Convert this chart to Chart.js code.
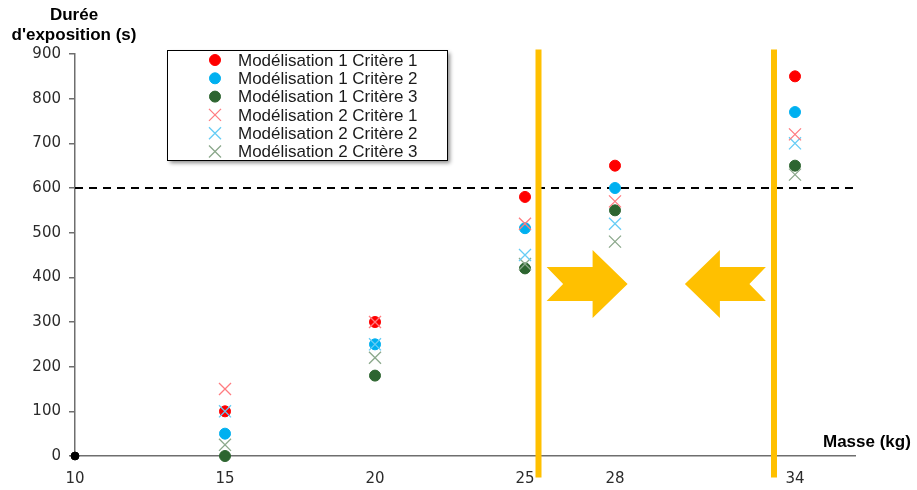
<!DOCTYPE html>
<html>
<head>
<meta charset="utf-8">
<script src="https://cdn.jsdelivr.net/npm/chart.js@4.4.1/dist/chart.umd.min.js"></script>
<style>
  body { margin: 0; background: #fff; }
  #wrap { width: 917px; height: 490px; }
</style>
</head>
<body>
<div id="wrap"><canvas id="graphe" width="917" height="490"></canvas></div>
<script>
// Données
var xTicks = [10, 15, 20, 25, 28, 34];
var masses = [15, 20, 25, 28, 34];
var m1c1 = [100, 300, 580, 650, 850];
var m1c2 = [50, 250, 510, 600, 770];
var m1c3 = [0, 180, 420, 550, 650];
var m2c1 = [150, 300, 520, 570, 720];
var m2c2 = [100, 250, 450, 520, 700];
var m2c3 = [25, 220, 430, 480, 630];
var seuil = 600;
var limites = [25.45, 33.3];
// flèches : x départ, x pointe, y centre (unités des axes)
var fleches = [
    { from: 25.72, to: 28.42, y: 385 },
    { from: 33.03, to: 30.33, y: 385 }
];

function pts(vals) {
    return masses.map(function (m, i) { return { x: m, y: vals[i] }; });
}

var ORANGE = "#FFC000";

var series = [
    { label: "Modélisation 1 Critère 1", data: m1c1, color: "#FF0000", style: "circle" },
    { label: "Modélisation 1 Critère 2", data: m1c2, color: "#00B0F0", style: "circle" },
    { label: "Modélisation 1 Critère 3", data: m1c3, color: "#2D6530", style: "circle" },
    { label: "Modélisation 2 Critère 1", data: m2c1, color: "#FF7C80", style: "crossRot" },
    { label: "Modélisation 2 Critère 2", data: m2c2, color: "#66CCF5", style: "crossRot" },
    { label: "Modélisation 2 Critère 3", data: m2c3, color: "#8BA88B", style: "crossRot" }
];

var datasets = series.map(function (s) {
    var cercle = s.style === "circle";
    return {
        type: "scatter",
        label: s.label,
        data: pts(s.data),
        pointStyle: s.style,
        pointRadius: cercle ? 5.5 : 8.5,
        backgroundColor: s.color,
        borderColor: s.color,
        borderWidth: cercle ? 1 : 1.3,
        clip: false,
        order: cercle ? 2 : 1
    };
});

// point noir à l'origine
datasets.push({
    type: "scatter",
    label: "origine",
    data: [{ x: 10, y: 0 }],
    pointRadius: 4,
    backgroundColor: "#000",
    borderColor: "#000",
    clip: false,
    order: 0
});

// seuil 600 s
datasets.push({
    type: "line",
    label: "seuil",
    data: [{ x: 10, y: seuil }, { x: 36, y: seuil }],
    borderColor: "#000",
    borderWidth: 2,
    borderDash: [8, 6],
    pointRadius: 0,
    order: 5
});

// lignes verticales orange
limites.forEach(function (lx) {
    datasets.push({
        type: "line",
        label: "limite",
        data: [{ x: lx, y: -48 }, { x: lx, y: 910 }],
        borderColor: ORANGE,
        borderWidth: 6,
        pointRadius: 0,
        clip: false,
        order: 4
    });
});

var decorPlugin = {
    id: "decor",
    afterDatasetsDraw: function (chart) {
        var ctx = chart.ctx;
        var xs = chart.scales.x, ys = chart.scales.y;
        ctx.save();
        ctx.fillStyle = ORANGE;
        fleches.forEach(function (f) {
            var x0 = xs.getPixelForValue(f.from);
            var x1 = xs.getPixelForValue(f.to);
            var yc = ys.getPixelForValue(f.y);
            var dir = x1 > x0 ? 1 : -1;
            var head = 35, notch = 16.5, shaft = 17, hh = 34;
            var xb = x1 - dir * head;
            ctx.beginPath();
            ctx.moveTo(x0, yc - shaft);
            ctx.lineTo(xb, yc - shaft);
            ctx.lineTo(xb, yc - hh);
            ctx.lineTo(x1, yc);
            ctx.lineTo(xb, yc + hh);
            ctx.lineTo(xb, yc + shaft);
            ctx.lineTo(x0, yc + shaft);
            ctx.lineTo(x0 + dir * notch, yc);
            ctx.closePath();
            ctx.fill();
        });
        ctx.restore();
    },
    afterDraw: function (chart) {
        var ctx = chart.ctx;
        ctx.save();
        // titres des axes
        ctx.fillStyle = "#000";
        ctx.font = "bold 17px 'Liberation Sans', Arial, sans-serif";
        ctx.textAlign = "center";
        ctx.textBaseline = "middle";
        ctx.fillText("Durée", 74, 15);
        ctx.fillText("d'exposition (s)", 74, 35);
        ctx.textAlign = "left";
        ctx.fillText("Masse (kg)", 823, 442);

        // légende
        var bx = 167, by = 50, bw = 280, bh = 110;
        ctx.save();
        ctx.shadowColor = "rgba(0,0,0,0.45)";
        ctx.shadowBlur = 4;
        ctx.shadowOffsetX = 3;
        ctx.shadowOffsetY = 3;
        ctx.fillStyle = "#fff";
        ctx.fillRect(bx, by, bw, bh);
        ctx.restore();
        ctx.strokeStyle = "#000";
        ctx.lineWidth = 1;
        ctx.strokeRect(bx + 0.5, by + 0.5, bw, bh);

        ctx.font = "17px 'Liberation Sans', Arial, sans-serif";
        ctx.textAlign = "left";
        ctx.textBaseline = "middle";
        series.forEach(function (s, i) {
            var yy = 60 + i * 18.3;
            var opts = {
                pointStyle: s.style,
                radius: s.style === "circle" ? 5.5 : 8.5,
                borderWidth: s.style === "circle" ? 1 : 1.3
            };
            ctx.fillStyle = s.color;
            ctx.strokeStyle = s.color;
            ctx.lineWidth = opts.borderWidth;
            Chart.helpers.drawPoint(ctx, opts, 215, yy);
            ctx.fillStyle = "#1a1a1a";
            ctx.fillText(s.label, 238, yy + 1);
        });
        ctx.restore();
    }
};

var ctx = document.getElementById("graphe").getContext("2d");
new Chart(ctx, {
    type: "scatter",
    data: { datasets: datasets },
    options: {
        responsive: false,
        animation: false,
        events: [],
        layout: { padding: { top: 54, right: 62, left: 0, bottom: 0 } },
        plugins: {
            legend: { display: false },
            tooltip: { enabled: false }
        },
        scales: {
            x: {
                type: "linear",
                min: 10,
                max: 36,
                afterBuildTicks: function (scale) {
                    scale.ticks = xTicks.map(function (v) { return { value: v }; });
                },
                afterFit: function (scale) { scale.height = 34; },
                grid: { display: false, drawTicks: false },
                border: { display: true, color: "#6e6e6e", width: 1.5 },
                ticks: {
                    padding: 14,
                    color: "#2b2b2b",
                    font: { family: "'DejaVu Sans', Verdana, sans-serif", size: 15 },
                    autoSkip: false,
                    maxRotation: 0
                }
            },
            y: {
                min: 0,
                max: 900,
                afterFit: function (scale) { scale.width = 75; },
                grid: {
                    display: true,
                    drawOnChartArea: false,
                    drawTicks: true,
                    tickLength: 6,
                    color: "#6e6e6e",
                    lineWidth: 1.5
                },
                border: { display: true, color: "#6e6e6e", width: 1.5 },
                ticks: {
                    stepSize: 100,
                    padding: 8,
                    color: "#2b2b2b",
                    font: { family: "'DejaVu Sans', Verdana, sans-serif", size: 15 }
                }
            }
        }
    },
    plugins: [decorPlugin]
});
</script>
</body>
</html>
